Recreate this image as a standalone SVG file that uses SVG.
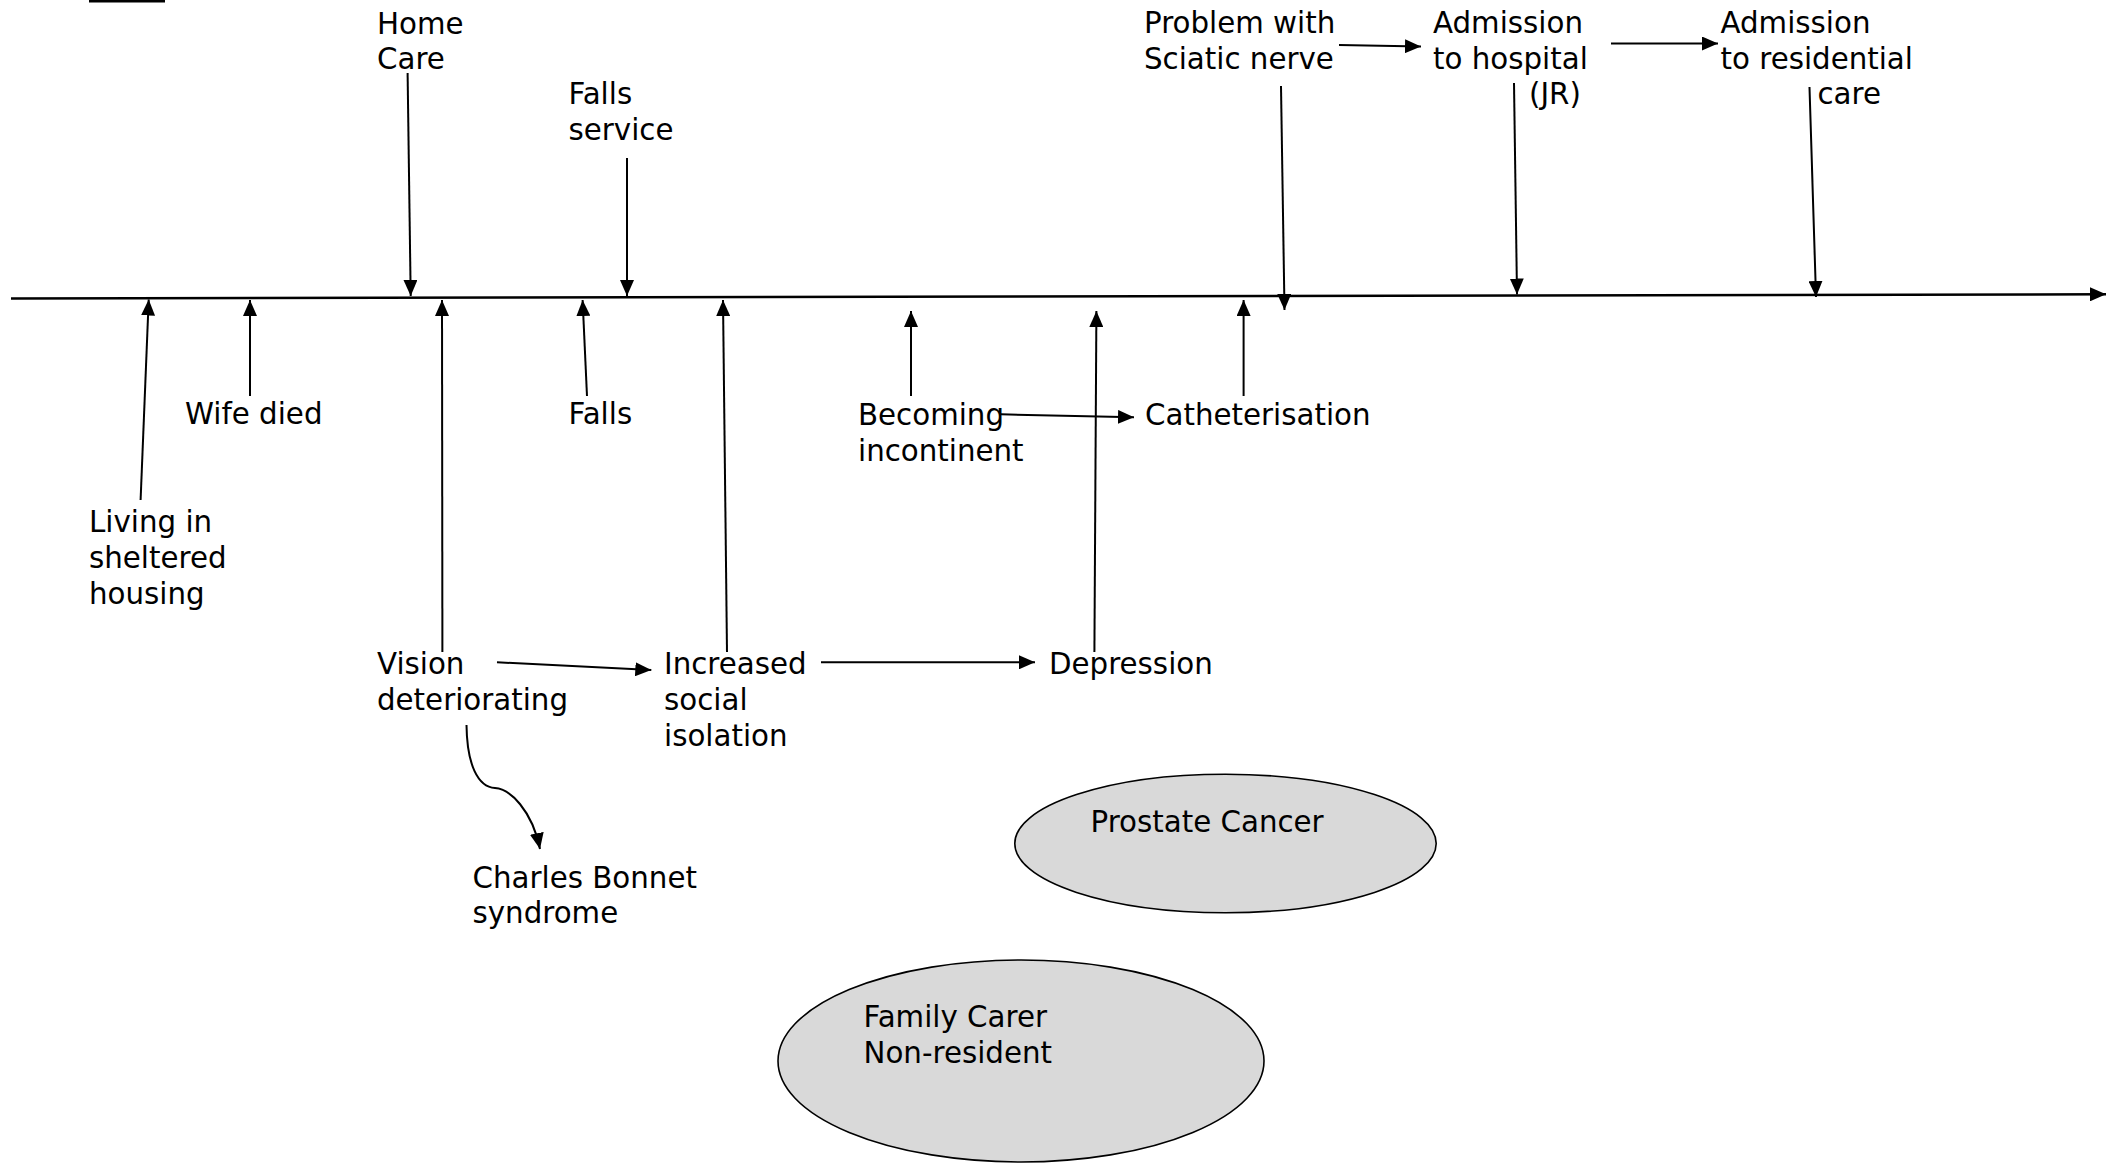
<svg xmlns="http://www.w3.org/2000/svg" width="2114" height="1164" viewBox="0 0 2114 1164">
<defs>
<marker id="ah" markerUnits="userSpaceOnUse" markerWidth="16" markerHeight="14" refX="16" refY="7" orient="auto">
<path d="M0,0 L16,7 L0,14 z" fill="#000"/>
</marker>
<style>
text{font-family:"DejaVu Sans","Liberation Sans",sans-serif;font-size:29.3px;fill:#000}
.c{fill:none;stroke:#000;stroke-width:2;marker-end:url(#ah)}
.tl{fill:none;stroke:#000;stroke-width:2.6;marker-end:url(#ah)}
.e{fill:#d9d9d9;stroke:#000;stroke-width:1.6}
</style>
</defs>
<rect width="2114" height="1164" fill="#fff"/>
<rect x="89" y="0" width="76" height="2.5" fill="#000"/>
<g id="connectors">
<line class="tl" x1="11" y1="298.5" x2="2106" y2="294.3"/>
<line class="c" x1="407.6" y1="73" x2="410.7" y2="296"/>
<line class="c" x1="627" y1="158" x2="627" y2="296"/>
<line class="c" x1="1281" y1="86" x2="1284.5" y2="310"/>
<line class="c" x1="1514" y1="83" x2="1517" y2="294.5"/>
<line class="c" x1="1809.5" y1="87" x2="1816" y2="297"/>
<line class="c" x1="1339" y1="45" x2="1421" y2="46.5"/>
<line class="c" x1="1611" y1="43.5" x2="1718" y2="43.5"/>
<line class="c" x1="140.6" y1="500" x2="148.7" y2="299.5"/>
<line class="c" x1="250" y1="396" x2="250" y2="300"/>
<line class="c" x1="442.4" y1="652" x2="442" y2="300"/>
<line class="c" x1="587" y1="396" x2="582.6" y2="300"/>
<line class="c" x1="727" y1="652" x2="723" y2="300"/>
<line class="c" x1="911" y1="396" x2="911" y2="311"/>
<line class="c" x1="1094.4" y1="652" x2="1096.4" y2="311"/>
<line class="c" x1="1243.6" y1="396" x2="1243.6" y2="300"/>
<line class="c" x1="1001" y1="414.3" x2="1134" y2="417.3"/>
<line class="c" x1="497" y1="662.3" x2="651.3" y2="670"/>
<line class="c" x1="821" y1="662.3" x2="1035" y2="662.3"/>
<path class="c" d="M466.5,725 C467,765 478,787 495,788 C510,789 532,810 540,849"/>
</g>
<g id="home-care"><text x="377" y="33.5">Home</text><text x="377" y="69">Care</text></g>
<g id="falls-service"><text x="568.5" y="103.5">Falls</text><text x="568.5" y="139.5">service</text></g>
<g id="sciatic"><text x="1144" y="32.5">Problem with</text><text x="1144" y="68.5">Sciatic nerve</text></g>
<g id="hospital"><text x="1433" y="32.5">Admission</text><text x="1433" y="68.5">to hospital</text><text x="1529" y="103.5">(JR)</text></g>
<g id="residential"><text x="1720.5" y="32.5">Admission</text><text x="1720.5" y="68.5">to residential</text><text x="1817.5" y="103.5">care</text></g>
<g id="wife-died"><text x="185" y="424">Wife died</text></g>
<g id="falls"><text x="568.5" y="424">Falls</text></g>
<g id="living"><text x="89" y="532">Living in</text><text x="89" y="568">sheltered</text><text x="89" y="604">housing</text></g>
<g id="incontinent"><text x="858" y="425">Becoming</text><text x="858" y="461">incontinent</text></g>
<g id="catheterisation"><text x="1145" y="425">Catheterisation</text></g>
<g id="vision"><text x="377" y="674">Vision</text><text x="377" y="710">deteriorating</text></g>
<g id="isolation"><text x="664" y="674">Increased</text><text x="664" y="710">social</text><text x="664" y="746">isolation</text></g>
<g id="depression"><text x="1049" y="674">Depression</text></g>
<g id="charles-bonnet"><text x="472.5" y="887.5">Charles Bonnet</text><text x="472.5" y="923">syndrome</text></g>
<g id="prostate"><ellipse class="e" cx="1225.5" cy="843.5" rx="210.7" ry="69.2"/><text x="1090.5" y="832">Prostate Cancer</text></g>
<g id="family-carer"><ellipse class="e" cx="1021" cy="1061" rx="243" ry="101"/><text x="863.5" y="1027">Family Carer</text><text x="863.5" y="1063">Non-resident</text></g>
</svg>
